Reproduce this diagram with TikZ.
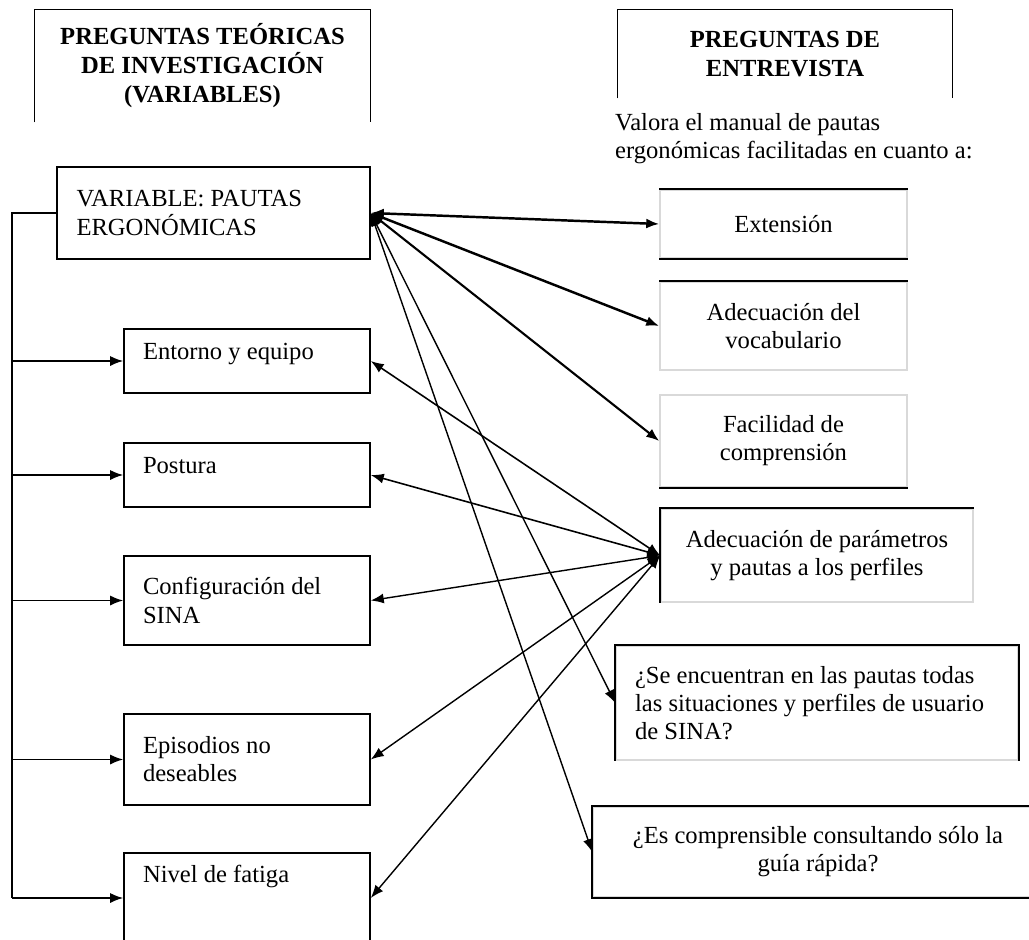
\documentclass[tikz,border=0pt]{standalone}
\usepackage{fontspec}
\setmainfont{Liberation Serif}
\usepackage{tikz}
\usetikzlibrary{arrows.meta,positioning}

\begin{document}
\begin{tikzpicture}[
    x=0.02cm, y=-0.02cm,
    every node/.style={font=\fontsize{14}{16}\selectfont},
    header/.style={rectangle, minimum width=#1, minimum height=1.8cm, align=center, font=\fontsize{14}{16.5}\selectfont\bfseries},
    varbox/.style={rectangle, draw=black, line width=0.9pt, text width=#1, inner xsep=0.38cm, align=flush left},
    askbox/.style={rectangle, draw=black!15, line width=0.9pt, align=center},
    edge/.style={line width=0.9pt},
    arrow/.style={-{Latex[length=0.26cm,width=0.2cm]}, line width=#1},
    hub/.style={{Latex[length=0.26cm,width=0.2cm]}-{Latex[length=0.26cm,width=0.2cm]}, line width=#1}
  ]
    \useasboundingbox (0,0) rectangle (1029,940);
    \fill[white] (0,0) rectangle (1029,940);
    \clip (0,0) rectangle (1029,940);

    % Headers
    \node[header=6.7cm, minimum height=2.24cm] (theory) at (202.5,66) {PREGUNTAS TEÓRICAS\\DE INVESTIGACIÓN\\(VARIABLES)};
    \node[header=6.68cm, minimum height=1.76cm] (interview) at (785,54) {PREGUNTAS DE\\ENTREVISTA};
    \draw[edge] (theory.south west) -- (theory.north west) -- (theory.north east) -- (theory.south east);
    \draw[edge] (interview.south west) -- (interview.north west) -- (interview.north east) -- (interview.south east);
    \node[anchor=west, align=left] (valora) at (609,139) {Valora el manual de pautas\\ergonómicas facilitadas en cuanto a:};

    % Variables
    \node[varbox=5.48cm, minimum width=6.26cm, minimum height=1.84cm] (pautas) at (213.5,213) {VARIABLE: PAUTAS\\ERGONÓMICAS};
    \node[varbox=4.16cm, minimum width=4.92cm, text height=0.48cm, text depth=0.56cm] (entorno) at (247,361) {Entorno y equipo};
    \node[varbox=4.16cm, minimum width=4.92cm, text height=0.48cm, text depth=0.56cm] (postura) at (247,475) {Postura};
    \node[varbox=4.16cm, minimum width=4.92cm, minimum height=1.78cm] (config) at (247,600.5) {Configuración del\\SINA};
    \node[varbox=4.16cm, minimum width=4.92cm, minimum height=1.82cm] (episodios) at (247,759.5) {Episodios no\\deseables};
    \node[varbox=4.16cm, minimum width=4.92cm, text height=0.46cm, text depth=1.1cm] (fatiga) at (247,898) {Nivel de fatiga};

    % Interview questions
    \node[askbox, minimum width=4.94cm, minimum height=1.36cm] (extension) at (783.5,224) {Extensión};
    \node[askbox, minimum width=4.94cm, minimum height=1.76cm] (vocab) at (783.5,326) {Adecuación del\\vocabulario};
    \node[askbox, minimum width=4.94cm, minimum height=1.84cm] (facilidad) at (783.5,441) {Facilidad de\\comprensión};
    \node[askbox, minimum width=6.24cm, minimum height=1.86cm] (perfiles) at (817,555.5) {Adecuación de parámetros\\y pautas a los perfiles};
    \node[askbox, align=flush left, text width=7.28cm, inner xsep=0.38cm, minimum height=2.28cm] (situaciones) at (817,703) {¿Se encuentran en las pautas todas\\las situaciones y perfiles de usuario\\de SINA?};
    \node[askbox, minimum width=9cm, minimum height=1.8cm] (guia) at (818,852) {¿Es comprensible consultando sólo la\\guía rápida?};

    % Visible borders
    \draw[edge] (extension.north west) -- (extension.north east);
    \draw[edge] (extension.south west) -- (extension.south east);
    \draw[edge] (vocab.north west) -- (vocab.north east);
    \draw[edge] (facilidad.south west) -- (facilidad.south east);
    \draw[edge] (perfiles.south west) -- (perfiles.north west) -- (perfiles.north east);
    \draw[edge] (situaciones.south west) -- (situaciones.north west) -- (situaciones.north east) -- (situaciones.south east);
    \draw[edge] (guia.north east) -- (guia.north west) -- (guia.south west) -- (guia.south east);

    % Trunk
    \coordinate (trunktop) at (12,213);
    \coordinate (trunkbot) at (12,898);
    \draw[edge] (pautas.west) -- (trunktop) -- (trunkbot);
    \draw[arrow=0.9pt] (trunktop |- entorno.west) -- (entorno.west);
    \draw[arrow=0.9pt] (trunktop |- postura.west) -- (postura.west);
    \draw[arrow=0.9pt] (trunktop |- config.west) -- (config.west);
    \draw[arrow=0.9pt] (trunktop |- episodios.west) -- (episodios.west);
    \draw[arrow=0.9pt] (trunktop |- fatiga.west) -- (fatiga.west);

    % From the variable to the questions
    \draw[hub=1.4pt] (pautas.east) -- (extension.west);
    \draw[hub=1.4pt] (pautas.east) -- (vocab.west);
    \draw[hub=1.2pt] (pautas.east) -- (facilidad.west);
    \draw[hub=0.8pt] (pautas.east) -- (situaciones.west);
    \draw[hub=0.8pt] (pautas.east) -- (guia.west);

    % From the profiles question back to the sub-variables
    \draw[hub=0.9pt] (perfiles.west) -- (entorno.east);
    \draw[hub=0.9pt] (perfiles.west) -- (postura.east);
    \draw[hub=0.8pt] (perfiles.west) -- (config.east);
    \draw[hub=0.8pt] (perfiles.west) -- (episodios.east);
    \draw[hub=0.8pt] (perfiles.west) -- (fatiga.east);
  \end{tikzpicture}
\end{document}
